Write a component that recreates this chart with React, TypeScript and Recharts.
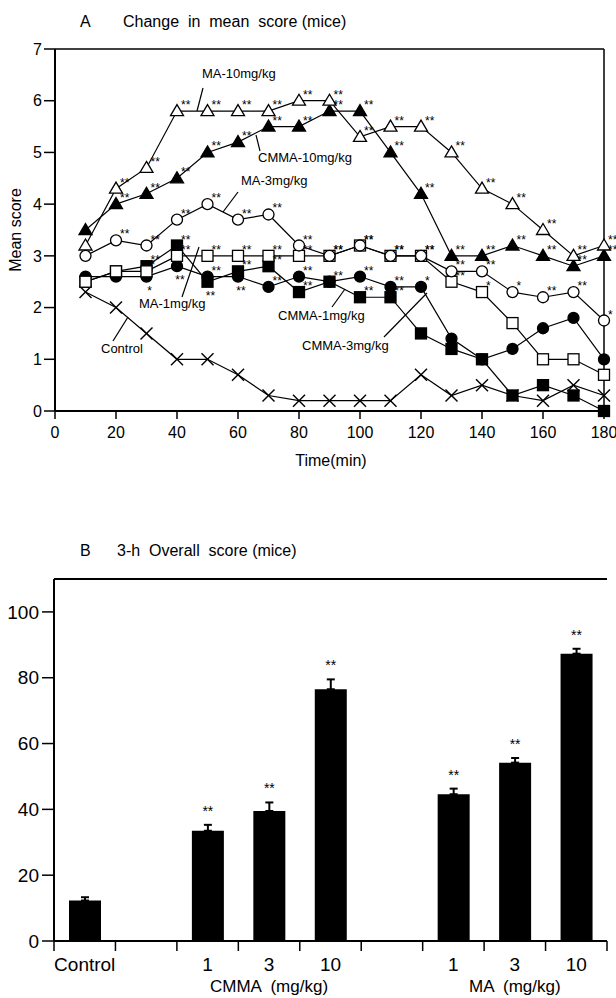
import React from "react";
import {
  LineChart,
  Line,
  XAxis,
  YAxis,
  ReferenceLine,
  LabelList,
  BarChart,
  Bar,
  ErrorBar,
} from "recharts";

const FONT = "'Liberation Sans', Arial, Helvetica, sans-serif";

// ---- Panel A: change in mean score over time ----
const times = [10, 20, 30, 40, 50, 60, 70, 80, 90, 100, 110, 120, 130, 140, 150, 160, 170, 180];
const control = [2.3, 2.0, 1.5, 1.0, 1.0, 0.7, 0.3, 0.2, 0.2, 0.2, 0.2, 0.7, 0.3, 0.5, 0.3, 0.2, 0.5, 0.3];
const cmma10 = [3.5, 4.0, 4.2, 4.5, 5.0, 5.2, 5.5, 5.5, 5.8, 5.8, 5.0, 4.2, 3.0, 3.0, 3.2, 3.0, 2.8, 3.0];
const ma10 = [3.2, 4.3, 4.7, 5.8, 5.8, 5.8, 5.8, 6.0, 6.0, 5.3, 5.5, 5.5, 5.0, 4.3, 4.0, 3.5, 3.0, 3.2];
const cmma1 = [2.5, 2.7, 2.8, 3.2, 2.5, 2.7, 2.8, 2.3, 2.5, 2.2, 2.2, 1.5, 1.2, 1.0, 0.3, 0.5, 0.3, 0.0];
const cmma3 = [2.6, 2.6, 2.6, 2.8, 2.6, 2.6, 2.4, 2.6, 2.5, 2.6, 2.4, 2.4, 1.4, 1.0, 1.2, 1.6, 1.8, 1.0];
const ma1 = [2.5, 2.7, 2.7, 3.0, 3.0, 3.0, 3.0, 3.0, 3.0, 3.2, 3.0, 3.0, 2.5, 2.3, 1.7, 1.0, 1.0, 0.7];
const ma3 = [3.0, 3.3, 3.2, 3.7, 4.0, 3.7, 3.8, 3.2, 3.0, 3.2, 3.0, 3.0, 2.7, 2.7, 2.3, 2.2, 2.3, 1.75];

// significance marks per time point
const noSig = times.map(() => "");
const ma10Sig = ["", "**", "**", "**", "**", "**", "**", "**", "**", "**", "**", "**", "**", "**", "**", "**", "**", "**"];
const cmma10Sig = ["", "**", "**", "**", "**", "**", "**", "**", "**", "**", "**", "**", "**", "**", "**", "**", "**", "**"];
const ma3Sig = ["", "**", "**", "**", "**", "**", "**", "**", "**", "**", "**", "**", "**", "**", "*", "**", "**", "*"];
const ma1Sig = ["", "", "*", "**", "**", "**", "**", "**", "**", "**", "**", "**", "**", "*", "", "", "", ""];
const cmma3Sig = ["", "", "*", "**", "**", "**", "**", "**", "", "**", "**", "*", "", "", "", "", "", ""];
const cmma1Sig = ["", "", "**", "**", "**", "**", "**", "**", "**", "**", "**", "", "", "", "", "", "", ""];

const timeTicks = [0, 20, 40, 60, 80, 100, 120, 140, 160, 180];
const scoreTicks = [0, 1, 2, 3, 4, 5, 6, 7];

type Shape = "cross" | "triFill" | "triOpen" | "sqFill" | "cirFill" | "sqOpen" | "cirOpen";

const series: { key: string; values: number[]; sig: string[]; shape: Shape; below: number[] }[] = [
  { key: "control", values: control, sig: noSig, shape: "cross", below: [] },
  { key: "cmma10", values: cmma10, sig: cmma10Sig, shape: "triFill", below: [] },
  { key: "ma10", values: ma10, sig: ma10Sig, shape: "triOpen", below: [] },
  { key: "cmma1", values: cmma1, sig: cmma1Sig, shape: "sqFill", below: [4] },
  { key: "cmma3", values: cmma3, sig: cmma3Sig, shape: "cirFill", below: [2, 3, 5] },
  { key: "ma1", values: ma1, sig: ma1Sig, shape: "sqOpen", below: [] },
  { key: "ma3", values: ma3, sig: ma3Sig, shape: "cirOpen", below: [] },
];

const lineRows = times.map((t, i) => {
  const row: Record<string, number | string> = { t };
  series.forEach((s) => {
    row[s.key] = s.values[i];
    row[s.key + "Sig"] = s.sig[i];
  });
  return row;
});

// ---- Panel B: 3-h overall score ----
const groups = ["Control", "", "1", "3", "10", "", "1", "3", "10"];
const groupTitles = ["", "", "", "CMMA  (mg/kg)", "", "", "", "MA  (mg/kg)", ""];
const overall = [12.3, null, 33.5, 39.5, 76.5, null, 44.6, 54.2, 87.3];
const overallErr = [1.0, null, 1.8, 2.6, 3.0, null, 1.7, 1.4, 1.5];
const overallSig = ["", "", "**", "**", "**", "", "**", "**", "**"];
const overallTicks = [0, 20, 40, 60, 80, 100];

const barRows = groups.map((g, i) => ({
  slot: i,
  score: overall[i],
  err: overallErr[i] == null ? null : [0, overallErr[i] as number],
}));

function Marker({ cx, cy, shape }: { cx: number; cy: number; shape: Shape }) {
  const sw = 1.3;
  switch (shape) {
    case "cross":
      return (
        <g stroke="#000" strokeWidth={1.4}>
          <line x1={cx - 6} y1={cy - 6} x2={cx + 6} y2={cy + 6} />
          <line x1={cx - 6} y1={cy + 6} x2={cx + 6} y2={cy - 6} />
        </g>
      );
    case "triFill":
    case "triOpen":
      return (
        <polygon
          points={`${cx},${cy - 6.5} ${cx + 6.5},${cy + 4.5} ${cx - 6.5},${cy + 4.5}`}
          fill={shape === "triFill" ? "#000" : "#fff"}
          stroke="#000"
          strokeWidth={sw}
        />
      );
    case "sqFill":
    case "sqOpen":
      return (
        <rect
          x={cx - 5.5}
          y={cy - 5.5}
          width={11}
          height={11}
          fill={shape === "sqFill" ? "#000" : "#fff"}
          stroke="#000"
          strokeWidth={sw}
        />
      );
    default:
      return (
        <circle cx={cx} cy={cy} r={5.5} fill={shape === "cirFill" ? "#000" : "#fff"} stroke="#000" strokeWidth={sw} />
      );
  }
}

const dotFor = (shape: Shape) => (p: any) => {
  if (p.cx == null || p.cy == null) return <g key={`${shape}-${p.index}`} />;
  return (
    <g key={`${shape}-${p.index}`}>
      <Marker cx={p.cx} cy={p.cy} shape={shape} />
    </g>
  );
};

const starsFor = (below: number[]) => (p: any) => {
  if (!p.value) return null;
  const under = below.includes(p.index);
  return (
    <text
      key={`s-${p.index}`}
      x={under ? p.x + 3 : p.x + 4}
      y={under ? p.y + 18 : p.y - 2}
      textAnchor={under ? "middle" : "start"}
      fontSize={12}
      fontFamily={FONT}
      fill="#000"
    >
      {p.value}
    </text>
  );
};

function SlotTick(p: any) {
  const { x, y, payload } = p;
  const i = Number(payload.value);
  const half = payload.offset || (607 - 54) / 18;
  const axisY = y - 10 - 7;
  return (
    <g>
      <line x1={x - half} x2={x - half} y1={axisY} y2={axisY + 10} stroke="#000" strokeWidth={1.5} />
      {i === groups.length - 1 && (
        <line x1={x + half} x2={x + half} y1={axisY} y2={axisY + 10} stroke="#000" strokeWidth={1.5} />
      )}
      <text x={x} y={y} dy="0.71em" textAnchor="middle" fontSize={19} fontFamily={FONT} fill="#000">
        {groups[i]}
      </text>
      {groupTitles[i] && (
        <text
          x={x}
          y={axisY + 51}
          textAnchor="middle"
          fontSize={17}
          fontFamily={FONT}
          fill="#000"
          style={{ whiteSpace: "pre" }}
        >
          {groupTitles[i]}
        </text>
      )}
    </g>
  );
}

// label value is the slot index, so look up the stars and error by slot
const barStar = (p: any) => {
  const i = Number(p.value);
  if (!overallSig[i] || overall[i] == null) return null;
  const errPx = ((overallErr[i] as number) * p.height) / (overall[i] as number);
  return (
    <text
      key={`b-${i}`}
      x={p.x + p.width / 2}
      y={p.y - errPx - 9}
      textAnchor="middle"
      fontSize={14}
      fontFamily={FONT}
      fill="#000"
    >
      {overallSig[i]}
    </text>
  );
};

const axisStyle = { stroke: "#000", strokeWidth: 2 };
const tickStyle = { stroke: "#000", strokeWidth: 1.5 };

const notes = [
  { text: "MA-10mg/kg", x: 202, y: 78, line: [203, 88, 197, 111] },
  { text: "CMMA-10mg/kg", x: 258, y: 162, line: [256, 135, 260, 151] },
  { text: "MA-3mg/kg", x: 241, y: 185, line: [238, 192, 223, 212] },
  { text: "MA-1mg/kg", x: 139, y: 308, line: [182, 297, 199, 247] },
  { text: "Control", x: 101, y: 353, line: [113, 341, 128, 317] },
  { text: "CMMA-1mg/kg", x: 278, y: 320, line: [332, 307, 345, 289] },
  { text: "CMMA-3mg/kg", x: 302, y: 350, line: [384, 337, 427, 293] },
];

export default function App() {
  return (
    <div style={{ position: "absolute", left: 0, top: 0, width: 616, height: 998, background: "#fff" }}>
      <div style={{ position: "absolute", left: 0, top: 0 }}>
        <LineChart width={616} height={480} data={lineRows} margin={{ top: 49, right: 12, bottom: 0, left: 0 }}>
          <XAxis
            dataKey="t"
            type="number"
            domain={[0, 180]}
            ticks={timeTicks}
            height={69}
            tickSize={8}
            tickMargin={8}
            axisLine={axisStyle}
            tickLine={tickStyle}
            tick={{ fill: "#000", fontSize: 16, fontFamily: FONT }}
          />
          <YAxis
            type="number"
            domain={[0, 7]}
            ticks={scoreTicks}
            width={55}
            tickSize={11}
            tickMargin={2}
            axisLine={axisStyle}
            tickLine={tickStyle}
            tick={{ fill: "#000", fontSize: 16, fontFamily: FONT }}
          />
          <ReferenceLine y={7} stroke="#000" strokeWidth={1.5} />
          <ReferenceLine x={180} stroke="#000" strokeWidth={1.5} />
          {series.map((s) => (
            <Line
              key={s.key}
              dataKey={s.key}
              type="linear"
              stroke="#000"
              strokeWidth={1.2}
              dot={dotFor(s.shape)}
              activeDot={false}
              isAnimationActive={false}
            >
              <LabelList dataKey={s.key + "Sig"} content={starsFor(s.below)} />
            </Line>
          ))}
        </LineChart>
      </div>

      <div style={{ position: "absolute", left: 0, top: 500 }}>
        <BarChart width={616} height={498} data={barRows} margin={{ top: 79, right: 9, bottom: 0, left: 0 }}>
          <XAxis
            dataKey="slot"
            type="category"
            height={57}
            tickSize={10}
            tickMargin={7}
            axisLine={axisStyle}
            tickLine={{ stroke: "none" }}
            tick={<SlotTick />}
            interval={0}
          />
          <YAxis
            type="number"
            domain={[0, 110]}
            ticks={overallTicks}
            width={54}
            tickSize={12}
            tickMargin={3}
            axisLine={axisStyle}
            tickLine={tickStyle}
            tick={{ fill: "#000", fontSize: 19, fontFamily: FONT }}
          />
          <YAxis yAxisId="right" orientation="right" domain={[0, 110]} width={0} tick={false} tickLine={false} axisLine={axisStyle} />
          <ReferenceLine y={110} stroke="#000" strokeWidth={2} />
          <Bar dataKey="score" fill="#000" barSize={32} isAnimationActive={false}>
            <ErrorBar dataKey="err" direction="y" width={4} strokeWidth={2} stroke="#000" />
            <LabelList dataKey="slot" content={barStar} />
          </Bar>
        </BarChart>
      </div>

      <svg
        width={616}
        height={998}
        style={{ position: "absolute", left: 0, top: 0, pointerEvents: "none" }}
        fontFamily={FONT}
      >
        <text x={80} y={27} fontSize={16} fill="#000">A</text>
        <text x={123} y={27} fontSize={16} fill="#000" style={{ whiteSpace: "pre" }}>
          {"Change  in  mean  score (mice)"}
        </text>
        <text transform="translate(21,230) rotate(-90)" textAnchor="middle" fontSize={16} fill="#000">
          Mean score
        </text>
        <text x={331} y={466} textAnchor="middle" fontSize={16} fill="#000">Time(min)</text>
        {notes.map((n) => (
          <g key={n.text}>
            <text x={n.x} y={n.y} fontSize={13} fill="#000">{n.text}</text>
            <line x1={n.line[0]} y1={n.line[1]} x2={n.line[2]} y2={n.line[3]} stroke="#000" strokeWidth={1.2} />
          </g>
        ))}
        <text x={80} y={556} fontSize={16} fill="#000">B</text>
        <text x={117} y={556} fontSize={16} fill="#000" style={{ whiteSpace: "pre" }}>
          {"3-h  Overall  score (mice)"}
        </text>
      </svg>
    </div>
  );
}
